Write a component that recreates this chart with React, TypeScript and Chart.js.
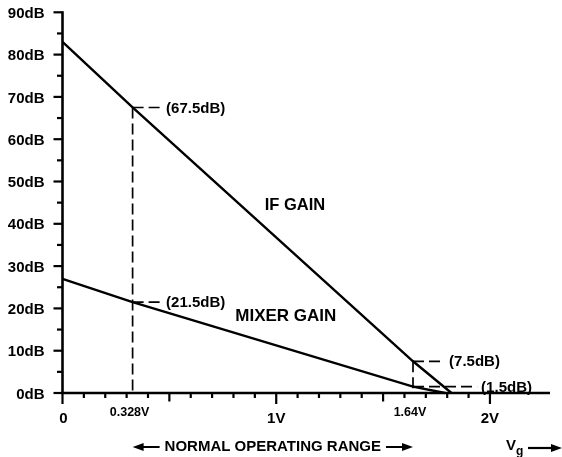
import React, { useEffect, useRef } from "react";
import { Chart, registerables } from "chart.js";

Chart.register(...registerables);

// ---- data ----
const ifGainX = [0, 0.328, 1.64, 1.82];
const ifGainY = [83, 67.5, 7.5, 0];
const mixerGainX = [0, 0.328, 1.64, 1.79];
const mixerGainY = [27, 21.5, 1.5, 0];
const markerX = [0.328, 1.64];
const markerEndX = [0.466, 1.79, 1.94];
const annotValues = [67.5, 21.5, 7.5, 1.5];
const annotLabels = ["(67.5dB)", "(21.5dB)", "(7.5dB)", "(1.5dB)"];
const yTickValues = [0, 5, 10, 15, 20, 25, 30, 35, 40, 45, 50, 55, 60, 65, 70, 75, 80, 85, 90];
const xTickValues = [0, 0.1, 0.2, 0.3, 0.4, 0.5, 0.6, 0.7, 0.8, 0.9, 1, 1.1, 1.2, 1.3, 1.4, 1.5, 1.6, 1.7, 1.8, 1.9, 2];
const xMainLabels = ["0", "1V", "2V"];
const xMainLabelValues = [0, 1, 2];
const xMarkerLabels = ["0.328V", "1.64V"];

const FONT = '"Liberation Sans", Arial, Helvetica, sans-serif';

function pts(xs: number[], ys: number[]) {
  return xs.map((x, i) => ({ x, y: ys[i] }));
}

function arrowHead(ctx: CanvasRenderingContext2D, tipX: number, y: number, dir: number) {
  ctx.beginPath();
  ctx.moveTo(tipX, y);
  ctx.lineTo(tipX - dir * 11, y - 4);
  ctx.lineTo(tipX - dir * 11, y + 4);
  ctx.closePath();
  ctx.fill();
}

const decorPlugin = {
  id: "decor",
  afterDraw(chart: any) {
    const ctx: CanvasRenderingContext2D = chart.ctx;
    const xs = chart.scales.x;
    const ys = chart.scales.y;
    const x0 = xs.getPixelForValue(0);
    const y0 = ys.getPixelForValue(0);
    const right = chart.chartArea.right;
    ctx.save();
    ctx.strokeStyle = "#000";
    ctx.fillStyle = "#000";
    ctx.setLineDash([]);
    ctx.lineCap = "butt";

    // y axis
    ctx.lineWidth = 2.6;
    ctx.beginPath();
    ctx.moveTo(x0, y0 + 1);
    ctx.lineTo(x0, ys.getPixelForValue(90) - 1);
    ctx.stroke();
    ctx.lineWidth = 2.2;
    yTickValues.forEach((v) => {
      const py = ys.getPixelForValue(v);
      const len = v % 10 === 0 ? 9 : 5.5;
      ctx.beginPath();
      ctx.moveTo(x0, py);
      ctx.lineTo(x0 - len, py);
      ctx.stroke();
    });
    ctx.font = `bold 15px ${FONT}`;
    ctx.textAlign = "right";
    ctx.textBaseline = "middle";
    yTickValues.forEach((v) => {
      if (v % 10 !== 0) return;
      ctx.fillText(`${v}dB`, x0 - 18, ys.getPixelForValue(v) + 1.5);
    });

    // x axis
    ctx.lineWidth = 2.6;
    ctx.beginPath();
    ctx.moveTo(x0 - 1, y0);
    ctx.lineTo(right, y0);
    ctx.stroke();
    ctx.lineWidth = 2.2;
    xTickValues.forEach((v) => {
      const px = xs.getPixelForValue(v);
      const k = Math.round(v * 10);
      const len = k % 10 === 0 ? 11 : k % 5 === 0 ? 8.5 : 5;
      ctx.beginPath();
      ctx.moveTo(px, y0);
      ctx.lineTo(px, y0 + len);
      ctx.stroke();
    });
    ctx.textAlign = "center";
    ctx.font = `bold 15px ${FONT}`;
    xMainLabels.forEach((t, i) => {
      ctx.fillText(t, xs.getPixelForValue(xMainLabelValues[i]) + (i === 0 ? 1 : 0), y0 + 26);
    });
    ctx.font = `bold 12.5px ${FONT}`;
    xMarkerLabels.forEach((t, i) => {
      ctx.fillText(t, xs.getPixelForValue(markerX[i]) - 3, y0 + 20);
    });

    // annotation labels
    ctx.font = `bold 15px ${FONT}`;
    ctx.textAlign = "left";
    const endIdx = [0, 0, 1, 2];
    annotLabels.forEach((t, i) => {
      ctx.fillText(t, xs.getPixelForValue(markerEndX[endIdx[i]]) + 4, ys.getPixelForValue(annotValues[i]) + 1);
    });

    // curve labels
    ctx.textAlign = "center";
    ctx.font = `bold 16.5px ${FONT}`;
    ctx.fillText("IF GAIN", xs.getPixelForValue(1.088), ys.getPixelForValue(44.4));
    ctx.font = `bold 17px ${FONT}`;
    ctx.fillText("MIXER GAIN", xs.getPixelForValue(1.045), ys.getPixelForValue(18.2));

    // normal operating range
    const ax = xs.getPixelForValue(markerX[0]);
    const bx = xs.getPixelForValue(markerX[1]);
    const ry = y0 + 54;
    ctx.font = `bold 15px ${FONT}`;
    const label = "NORMAL OPERATING RANGE";
    const w = ctx.measureText(label).width;
    const mid = (ax + bx) / 2;
    ctx.fillText(label, mid, ry);
    ctx.lineWidth = 2.2;
    ctx.beginPath();
    ctx.moveTo(ax + 6, ry);
    ctx.lineTo(mid - w / 2 - 5, ry);
    ctx.moveTo(mid + w / 2 + 5, ry);
    ctx.lineTo(bx - 6, ry);
    ctx.stroke();
    arrowHead(ctx, ax, ry, -1);
    arrowHead(ctx, bx, ry, 1);

    // Vg label
    ctx.textAlign = "left";
    ctx.font = `bold 15px ${FONT}`;
    ctx.fillText("V", 506, ry - 1);
    ctx.font = `bold 12px ${FONT}`;
    ctx.fillText("g", 516, ry + 5);
    ctx.beginPath();
    ctx.moveTo(528, ry + 1);
    ctx.lineTo(552, ry + 1);
    ctx.stroke();
    arrowHead(ctx, 562, ry + 1, 1);

    ctx.restore();
  },
};

export default function App() {
  const ref = useRef<HTMLCanvasElement | null>(null);
  useEffect(() => {
    document.body.style.margin = "0";
    if (!ref.current) return;
    const solid = { borderColor: "#000", borderWidth: 2.4, pointRadius: 0, tension: 0, fill: false, clip: false as any };
    const dashed = { borderColor: "#000", borderWidth: 1.7, borderDash: [11, 5], pointRadius: 0, tension: 0, fill: false, clip: false as any };
    const chart = new Chart(ref.current, {
      type: "line",
      data: {
        datasets: [
          { label: "IF GAIN", data: pts(ifGainX, ifGainY), ...solid },
          { label: "MIXER GAIN", data: pts(mixerGainX, mixerGainY), ...solid },
          { label: "v1", data: [{ x: markerX[0], y: annotValues[0] }, { x: markerX[0], y: 0 }], ...dashed },
          { label: "h1", data: [{ x: markerX[0], y: annotValues[0] }, { x: markerEndX[0], y: annotValues[0] }], ...dashed },
          { label: "h2", data: [{ x: markerX[0], y: annotValues[1] }, { x: markerEndX[0], y: annotValues[1] }], ...dashed },
          { label: "v2", data: [{ x: markerX[1], y: annotValues[2] }, { x: markerX[1], y: 0 }], ...dashed },
          { label: "h3", data: [{ x: markerX[1], y: annotValues[2] }, { x: markerEndX[1], y: annotValues[2] }], ...dashed },
          { label: "h4", data: [{ x: markerX[1], y: annotValues[3] }, { x: markerEndX[2], y: annotValues[3] }], ...dashed },
        ] as any,
      },
      options: {
        animation: false,
        responsive: false,
        devicePixelRatio: 1,
        layout: { padding: { left: 62.5, right: 12, top: 12.3, bottom: 64 } },
        plugins: { legend: { display: false }, tooltip: { enabled: false } },
        scales: {
          x: { type: "linear", min: 0, max: 2.281, display: false },
          y: { type: "linear", min: 0, max: 90, display: false },
        },
      },
      plugins: [decorPlugin],
    });
    return () => chart.destroy();
  }, []);
  return (
    <div style={{ position: "absolute", left: 0, top: 0, width: 562, height: 457, background: "#fff" }}>
      <canvas ref={ref} width={562} height={457} />
    </div>
  );
}
